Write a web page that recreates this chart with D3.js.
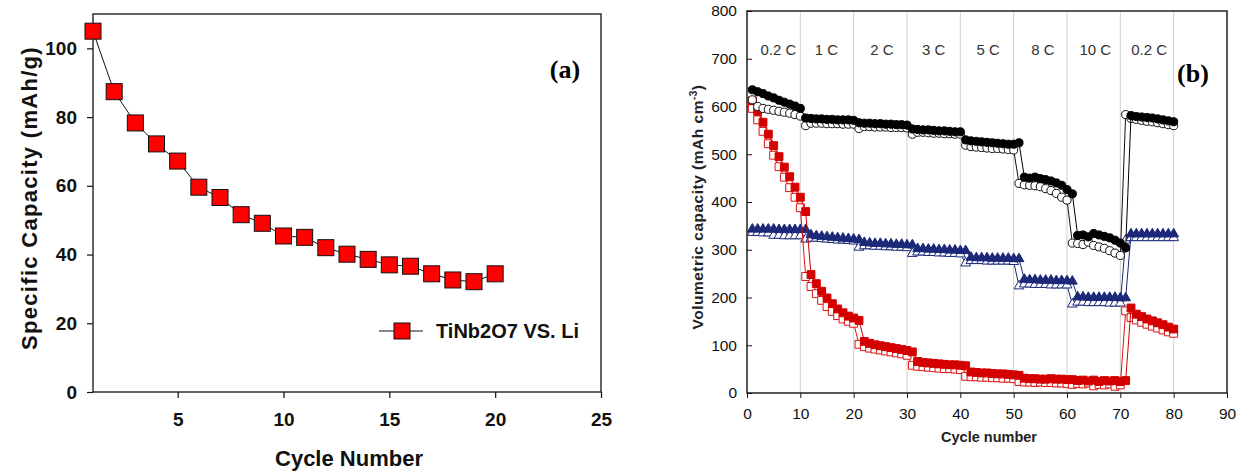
<!DOCTYPE html>
<html>
<head>
<meta charset="utf-8">
<script src="https://cdn.jsdelivr.net/npm/d3@7"></script>
<style>
  body { margin: 0; background: #fff; }
  svg { display: block; }
  text { font-family: "Liberation Sans", Arial, sans-serif; }
</style>
</head>
<body>
<svg width="1242" height="474"></svg>
<script>
// (a) TiNb2O7 vs Li
var cyclesA = [1, 2, 3, 4, 5, 6, 7, 8, 9, 10, 11, 12, 13, 14, 15, 16, 17, 18, 19, 20];
var capA = [105, 87.4, 78.3, 72.2, 67.2, 59.6, 56.6, 51.6, 49.1, 45.4, 45, 42, 40.1, 38.6, 37, 36.6, 34.4, 32.6, 32.1, 34.4];
var xTicksA = [5, 10, 15, 20, 25];
var yTicksA = [0, 20, 40, 60, 80, 100];

// (b) rate test, 80 cycles
var cyclesB = [1, 2, 3, 4, 5, 6, 7, 8, 9, 10, 11, 12, 13, 14, 15, 16, 17, 18, 19, 20,
  21, 22, 23, 24, 25, 26, 27, 28, 29, 30, 31, 32, 33, 34, 35, 36, 37, 38, 39, 40,
  41, 42, 43, 44, 45, 46, 47, 48, 49, 50, 51, 52, 53, 54, 55, 56, 57, 58, 59, 60,
  61, 62, 63, 64, 65, 66, 67, 68, 69, 70, 71, 72, 73, 74, 75, 76, 77, 78, 79, 80];
var circFilled = [635, 631, 627, 622, 618, 613, 609, 605, 601, 596,
  576, 575, 574, 574, 573, 573, 572, 572, 572, 571,
  566, 565, 565, 564, 564, 563, 563, 562, 562, 561,
  553, 552, 551, 551, 550, 549, 549, 548, 547, 547,
  530, 528, 527, 526, 525, 524, 523, 522, 521, 521,
  524, 452, 450, 452, 449, 447, 444, 440, 435, 426,
  417, 330, 331, 327, 334, 331, 328, 325, 320, 314,
  304, 581, 579, 578, 577, 576, 574, 572, 570, 568];
var circOpen = [614, 600, 596, 594, 592, 590, 588, 586, 583, 580,
  560, 565, 565, 565, 564, 564, 564, 563, 563, 563,
  554, 558, 558, 557, 557, 557, 556, 556, 556, 555,
  542, 546, 546, 545, 544, 544, 543, 543, 542, 542,
  519, 516, 515, 514, 513, 512, 512, 511, 510, 509,
  439, 436, 435, 434, 432, 428, 424, 418, 410, 404,
  314, 313, 311, 316, 309, 306, 303, 298, 293, 288,
  583, 575, 573, 571, 569, 568, 566, 564, 562, 560];
var sqFilled = [612, 590, 567, 542, 518, 495, 473, 453, 431, 410,
  380, 248, 229, 213, 199, 187, 176, 168, 161, 157,
  152, 108, 104, 101, 99, 97, 95, 93, 91, 89,
  86, 66, 64, 63, 62, 61, 60, 59, 59, 58,
  57, 44, 43, 42, 42, 41, 40, 40, 39, 38,
  37, 31, 30, 30, 29, 29, 30, 29, 29, 28,
  28, 26, 27, 25, 27, 24, 26, 25, 26, 24,
  26, 178, 165, 160, 155, 151, 147, 143, 138, 134];
var sqOpen = [596, 572, 548, 522, 498, 474, 452, 430, 410, 388,
  244, 223, 208, 194, 181, 171, 162, 155, 150, 146,
  102, 97, 94, 92, 90, 88, 86, 84, 82, 79,
  58, 56, 55, 54, 53, 52, 51, 51, 50, 49,
  35, 34, 34, 33, 33, 32, 32, 31, 31, 30,
  24, 23, 23, 22, 23, 22, 22, 21, 21, 20,
  18, 20, 19, 21, 15, 18, 17, 19, 14, 17,
  172, 158, 153, 148, 144, 140, 136, 132, 128, 125];
var triFilled = [343, 343, 343, 343, 343, 342, 342, 342, 342, 342,
  342, 331, 329, 328, 327, 326, 325, 324, 323, 322,
  321, 315, 314, 313, 313, 312, 312, 311, 311, 310,
  310, 302, 302, 301, 301, 300, 300, 299, 299, 298,
  298, 284, 283, 283, 283, 282, 282, 282, 282, 281,
  281, 238, 237, 237, 236, 236, 236, 235, 235, 235,
  234, 201, 201, 200, 200, 200, 200, 200, 200, 199,
  199, 333, 333, 333, 333, 333, 333, 333, 333, 333];
var triOpen = [336, 336, 335, 335, 330, 330, 329, 329, 329, 329,
  322, 324, 324, 323, 322, 321, 320, 320, 319, 318,
  305, 308, 308, 307, 307, 306, 306, 305, 305, 304,
  292, 295, 295, 294, 294, 293, 293, 292, 292, 291,
  272, 277, 277, 277, 276, 276, 276, 276, 276, 275,
  224, 228, 228, 227, 227, 227, 226, 226, 226, 226,
  186, 190, 190, 189, 189, 189, 189, 188, 188, 188,
  320, 325, 325, 325, 325, 325, 325, 325, 325, 325];
var rateLabels = ['0.2 C', '1 C', '2 C', '3 C', '5 C', '8 C', '10 C', '0.2 C'];
var rateCenters = [5.9, 14.9, 25.3, 35, 45.2, 55.5, 65.3, 75.4];
var gridB = [10, 20, 30, 40, 50, 60, 70, 80];
var xTicksB = [0, 10, 20, 30, 40, 50, 60, 70, 80, 90];
var yTicksB = [0, 100, 200, 300, 400, 500, 600, 700, 800];

var svg = d3.select('svg');

// ---------- panel (a) ----------
var xa = d3.scaleLinear().domain([1, 25]).range([93, 601]);
var ya = d3.scaleLinear().domain([0, 110]).range([392, 14]);

var gxa = svg.append('g')
   .attr('transform', 'translate(0,392)')
   .call(d3.axisBottom(xa).tickValues(xTicksA).tickSize(6).tickPadding(15).tickSizeOuter(0));
var gya = svg.append('g')
   .attr('transform', 'translate(93,0)')
   .call(d3.axisLeft(ya).tickValues(yTicksA).tickSize(6).tickPadding(10).tickSizeOuter(0));
[gxa, gya].forEach(function (g) {
  g.select('.domain').remove();
  g.selectAll('line').attr('stroke', '#111').attr('stroke-width', 1.2);
  g.selectAll('text')
   .attr('font-size', '19px')
   .attr('font-weight', 'bold')
   .attr('fill', '#111')
   .style('font-family', '"Liberation Sans", Arial, sans-serif');
});

svg.append('rect')
   .attr('x', 93).attr('y', 14)
   .attr('width', 601 - 93).attr('height', 392 - 14)
   .attr('fill', 'none')
   .attr('stroke', '#111')
   .attr('stroke-width', 1.3);

svg.append('path')
   .datum(capA)
   .attr('d', d3.line()
     .x(function (d, i) { return xa(cyclesA[i]); })
     .y(function (d) { return ya(d); }))
   .attr('fill', 'none')
   .attr('stroke', '#111')
   .attr('stroke-width', 1);

svg.append('g').selectAll('rect')
   .data(capA)
   .join('rect')
   .attr('x', function (d, i) { return xa(cyclesA[i]) - 8; })
   .attr('y', function (d) { return ya(d) - 8; })
   .attr('width', 16).attr('height', 16)
   .attr('fill', '#ff0000')
   .attr('stroke', '#111')
   .attr('stroke-width', 1);

// legend
svg.append('line')
   .attr('x1', 379).attr('x2', 423)
   .attr('y1', 331).attr('y2', 331)
   .attr('stroke', '#111').attr('stroke-width', 1.2);
svg.append('rect')
   .attr('x', 394).attr('y', 323)
   .attr('width', 16).attr('height', 16)
   .attr('fill', '#ff0000').attr('stroke', '#111');
svg.append('text')
   .attr('x', 436).attr('y', 338)
   .attr('font-size', '20px')
   .attr('font-weight', 'bold')
   .attr('fill', '#111')
   .text('TiNb2O7 VS. Li');

svg.append('text')
   .attr('x', 565).attr('y', 78)
   .attr('text-anchor', 'middle')
   .attr('font-size', '26px')
   .attr('font-weight', 'bold')
   .style('font-family', '"Liberation Serif", "Times New Roman", serif')
   .text('(a)');

svg.append('text')
   .attr('x', 349).attr('y', 466)
   .attr('text-anchor', 'middle')
   .attr('font-size', '22px')
   .attr('font-weight', 'bold')
   .attr('fill', '#111')
   .text('Cycle Number');

svg.append('text')
   .attr('transform', 'translate(37,198) rotate(-90)')
   .attr('text-anchor', 'middle')
   .attr('font-size', '22px')
   .attr('font-weight', 'bold')
   .attr('letter-spacing', '1.3px')
   .attr('fill', '#111')
   .text('Specific Capacity (mAh/g)');

// ---------- panel (b) ----------
var xb = d3.scaleLinear().domain([0, 90]).range([747, 1227]);
var yb = d3.scaleLinear().domain([0, 800]).range([393, 11]);

svg.append('g').selectAll('line')
   .data(gridB)
   .join('line')
   .attr('x1', function (d) { return xb(d); })
   .attr('x2', function (d) { return xb(d); })
   .attr('y1', yb(0)).attr('y2', yb(800))
   .attr('stroke', '#cfcfcf')
   .attr('stroke-width', 1);

var gxb = svg.append('g')
   .attr('transform', 'translate(0,393)')
   .call(d3.axisBottom(xb).tickValues(xTicksB).tickSize(5).tickPadding(10).tickSizeOuter(0));
var gyb = svg.append('g')
   .attr('transform', 'translate(747,0)')
   .call(d3.axisLeft(yb).tickValues(yTicksB).tickSize(-5).tickPadding(10).tickSizeOuter(0));
[gxb, gyb].forEach(function (g) {
  g.select('.domain').remove();
  g.selectAll('line').attr('stroke', '#111');
  g.selectAll('text')
   .attr('font-size', '15.5px')
   .attr('fill', '#111')
   .style('font-family', '"Liberation Sans", Arial, sans-serif');
});

svg.append('rect')
   .attr('x', 747).attr('y', 11)
   .attr('width', 1227 - 747).attr('height', 393 - 11)
   .attr('fill', 'none')
   .attr('stroke', '#111')
   .attr('stroke-width', 1.4);

function drawSeries(values, shape, size, stroke, fill) {
  svg.append('path')
     .datum(values)
     .attr('d', d3.line()
       .x(function (d, i) { return xb(cyclesB[i]); })
       .y(function (d) { return yb(d); }))
     .attr('fill', 'none')
     .attr('stroke', stroke)
     .attr('stroke-width', 1);
  svg.append('g').selectAll('path')
     .data(values)
     .join('path')
     .attr('transform', function (d, i) { return 'translate(' + xb(cyclesB[i]) + ',' + yb(d) + ')'; })
     .attr('d', d3.symbol().type(shape).size(size))
     .attr('fill', fill)
     .attr('stroke', stroke)
     .attr('stroke-width', 1);
}

drawSeries(triOpen, d3.symbolTriangle, 42, '#1c2878', '#fff');
drawSeries(triFilled, d3.symbolTriangle, 42, '#1c2878', '#1c2878');
drawSeries(sqOpen, d3.symbolSquare, 62, '#e01010', '#fff');
drawSeries(sqFilled, d3.symbolSquare, 62, '#d40000', '#d40000');
drawSeries(circOpen, d3.symbolCircle, 52, '#111', '#fff');
drawSeries(circFilled, d3.symbolCircle, 52, '#000', '#000');

svg.append('g').selectAll('text')
   .data(rateLabels)
   .join('text')
   .attr('x', function (d, i) { return xb(rateCenters[i]); })
   .attr('y', 55)
   .attr('text-anchor', 'middle')
   .attr('font-size', '15px')
   .attr('fill', '#333')
   .text(function (d) { return d; });

svg.append('text')
   .attr('x', 1193).attr('y', 82)
   .attr('text-anchor', 'middle')
   .attr('font-size', '26px')
   .attr('font-weight', 'bold')
   .style('font-family', '"Liberation Serif", "Times New Roman", serif')
   .text('(b)');

svg.append('text')
   .attr('x', 989).attr('y', 442)
   .attr('text-anchor', 'middle')
   .attr('font-size', '14.5px')
   .attr('font-weight', 'bold')
   .attr('fill', '#222')
   .text('Cycle number');

var ylab = svg.append('text')
   .attr('transform', 'translate(703,207) rotate(-90)')
   .attr('text-anchor', 'middle')
   .attr('font-size', '15.5px')
   .attr('font-weight', 'bold')
   .attr('letter-spacing', '0.5px')
   .attr('fill', '#222');
ylab.append('tspan').text('Volumetric capacity (mAh cm');
ylab.append('tspan').attr('font-size', '10px').attr('dy', -6).text('-3');
ylab.append('tspan').attr('dy', 6).text(')');
</script>
</body>
</html>
